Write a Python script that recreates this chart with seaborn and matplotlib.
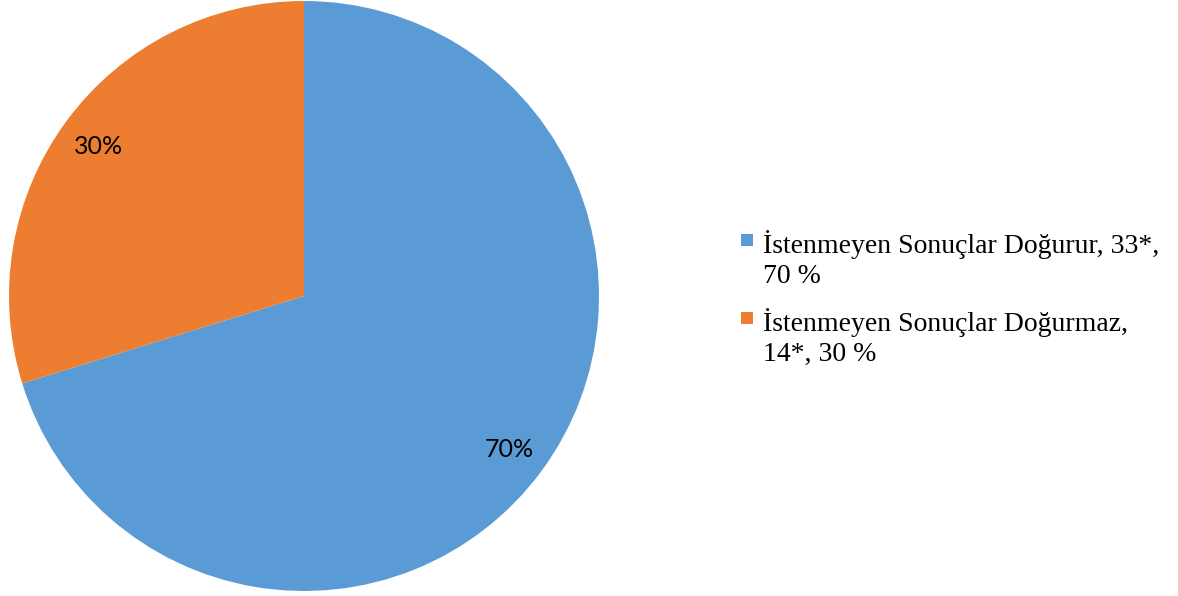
import matplotlib
matplotlib.use("Agg")
import matplotlib.pyplot as plt
import seaborn as sns
from matplotlib.patches import Rectangle

categories = ["İstenmeyen Sonuçlar Doğurur, 33*,\n70 %",
              "İstenmeyen Sonuçlar Doğurmaz,\n14*, 30 %"]
counts = [33, 14]
colors = ["#5B9BD5", "#ED7D31"]

sns.set_theme(style="white")
palette = sns.color_palette(colors)

W, H = 1178, 596
fig = plt.figure(figsize=(W / 100, H / 100), dpi=100)
cx, cy, r = 304, 296, 295
ax = fig.add_axes([(cx - r) / W, (H - cy - r) / H, 2 * r / W, 2 * r / H])
wedges, texts, autotexts = ax.pie(
    counts, colors=palette, startangle=90, counterclock=False,
    autopct=lambda p: f"{p:.0f}%", pctdistance=0.865, radius=1,
    textprops=dict(fontsize=18, family=["Lato", "DejaVu Sans"], color="black"),
    wedgeprops=dict(linewidth=0))
for t in autotexts:
    x, y = t.get_position()
    t.set_position((x, y - 0.008))
ax.set_xlim(-1, 1)
ax.set_ylim(-1, 1)
ax.set_aspect("equal")
ax.axis("off")

# legend: square marker aligned with first line of each two-line label
serif = ["Liberation Serif", "DejaVu Serif"]
marker_top = [234, 312]
text_base = [253, 331]   # baseline of first line (pixels from top)
line_step = 30
for label, col, mt, base in zip(categories, palette, marker_top, text_base):
    fig.add_artist(Rectangle((741 / W, 1 - (mt + 12) / H), 12 / W, 12 / H,
                             transform=fig.transFigure, facecolor=col,
                             edgecolor="none"))
    for i, line in enumerate(label.split("\n")):
        fig.text(763 / W, 1 - (base + i * line_step) / H, line,
                 family=serif, fontsize=20, va="baseline", ha="left",
                 color="black")

fig.savefig("out.png", dpi=100)
